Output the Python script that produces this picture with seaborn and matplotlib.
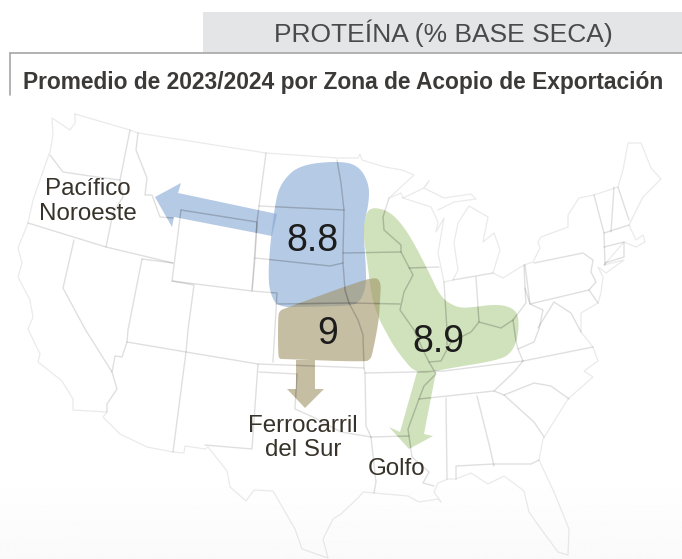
import numpy as np
import matplotlib
matplotlib.use('Agg')
import matplotlib.pyplot as plt
from matplotlib.patches import Polygon
import seaborn as sns

# values per export zone
zone_names = ['Pacífico\nNoroeste', 'Ferrocarril\ndel Sur', 'Golfo']
zone_values = ['8.8', '9', '8.9']
header = 'PROTEÍNA (% BASE SECA)'
subtitle = 'Promedio de 2023/2024 por Zona de Acopio de Exportación'

# map outlines, traced in pixels of the picture
coast = [
    [(75, 114), (75, 123), (70, 130), (52, 118), (53, 135), (50, 152), (48, 157), (33, 200), (28, 223), (18, 248),
     (22, 263), (18, 277), (30, 300), (33, 317), (28, 329), (40, 354), (38, 362), (62, 381), (73, 399), (73, 410),
     (107, 412), (103, 417), (120, 434), (147, 447), (173, 452), (184, 453), (185, 446), (205, 449), (208, 447),
     (227, 471), (230, 487), (246, 501), (254, 490), (273, 491), (295, 529), (302, 549), (328, 558), (323, 539),
     (333, 519), (341, 514), (359, 497), (363, 492), (374, 493), (408, 496), (419, 502), (438, 499), (441, 502),
     (434, 492), (438, 483), (448, 479), (456, 479), (471, 473), (488, 484), (504, 476), (524, 491), (529, 512),
     (541, 529), (558, 552), (568, 555), (569, 529), (554, 492), (539, 460), (543, 439), (568, 399), (593, 377),
     (584, 371), (598, 361), (593, 347), (581, 332), (581, 313), (598, 303), (601, 293), (603, 277), (598, 267),
     (606, 273), (624, 260), (604, 265)],
    [(604, 265), (624, 242), (636, 247), (645, 242), (643, 235), (636, 240), (629, 225), (643, 197), (661, 179),
     (651, 168), (641, 143), (628, 143), (623, 170), (618, 187), (594, 195), (579, 198), (568, 215), (568, 227),
     (541, 237), (538, 242), (540, 248), (533, 262), (524, 265), (503, 278), (493, 273), (500, 250), (494, 233),
     (483, 242), (488, 217), (469, 206), (458, 223), (454, 243), (458, 270), (453, 280), (444, 282), (438, 253),
     (444, 218), (436, 232), (438, 222), (431, 207), (403, 198), (401, 193), (389, 198), (414, 175), (402, 170),
     (385, 167), (362, 160), (360, 154), (358, 158), (338, 158), (266, 153), (138, 133), (130, 130), (75, 114)],
    [(403, 198), (424, 188), (429, 181), (424, 188), (444, 198), (471, 194), (476, 199), (454, 202), (438, 210)],
]
borders = [
    [(50, 155), (63, 172), (97, 177), (120, 180)],
    [(130, 130), (120, 180), (123, 197), (113, 213), (106, 247)],
    [(28, 223), (106, 247), (173, 263)],
    [(138, 133), (136, 150), (147, 178), (145, 195), (152, 195), (160, 217), (173, 218)],
    [(181, 210), (172, 281), (252, 291), (257, 222), (181, 210)],
    [(266, 153), (259, 206), (257, 222), (255, 258), (252, 291), (277, 293), (273, 362)],
    [(259, 206), (344, 210)],
    [(255, 258), (330, 266), (343, 263)],
    [(276, 304), (349, 303), (400, 304)],
    [(74, 240), (63, 288), (85, 329), (112, 372), (117, 389), (107, 404), (107, 412)],
    [(142, 259), (128, 330), (127, 342), (122, 357), (115, 356), (112, 372)],
    [(142, 259), (173, 263)],
    [(172, 281), (194, 285), (188, 330), (186, 352), (173, 452)],
    [(127, 342), (186, 352), (258, 364), (341, 367), (364, 368)],
    [(258, 364), (252, 449), (205, 445)],
    [(259, 372), (297, 374), (295, 409), (313, 417), (341, 432), (371, 437)],
    [(337, 160), (341, 183), (344, 210), (343, 253), (343, 263), (345, 290), (349, 303), (358, 320), (363, 335),
     (364, 368), (365, 373), (366, 426), (371, 437), (376, 482), (374, 493)],
    [(365, 373), (413, 372), (444, 371), (523, 361), (593, 347)],
    [(419, 399), (494, 391), (514, 372), (523, 361)],
    [(494, 391), (504, 395), (534, 383), (551, 386), (569, 399)],
    [(504, 395), (534, 422), (544, 437)],
    [(446, 398), (447, 479)],
    [(477, 396), (489, 444), (494, 466)],
    [(456, 479), (456, 466), (494, 464), (531, 464), (539, 460)],
    [(371, 437), (409, 436), (408, 429), (419, 399), (424, 386), (436, 374), (429, 362), (424, 352), (414, 330),
     (400, 310), (404, 292), (413, 275), (401, 252), (401, 245), (384, 230), (383, 217), (389, 198)],
    [(409, 436), (412, 457), (429, 472), (423, 483), (434, 486)],
    [(343, 253), (401, 252)],
    [(409, 268), (439, 267)],
    [(444, 282), (447, 330), (447, 345)],
    [(453, 280), (493, 273)],
    [(476, 277), (479, 322)],
    [(429, 362), (441, 361), (451, 342), (471, 332), (479, 322), (501, 328), (513, 320), (526, 303), (525, 288),
     (524, 265)],
    [(513, 320), (516, 341), (518, 349), (534, 342), (539, 329), (543, 310), (530, 304), (525, 288)],
    [(518, 349), (523, 361)],
    [(534, 263), (583, 253), (593, 260), (591, 272), (596, 282), (589, 290), (530, 304), (525, 265)],
    [(538, 328), (554, 302), (571, 313), (581, 332)],
    [(589, 290), (598, 303)],
    [(594, 195), (604, 233), (605, 265)],
    [(604, 233), (629, 225)],
    [(604, 247), (624, 242), (624, 257), (605, 263)],
    [(611, 232), (614, 187)],
    [(618, 187), (629, 220)],
]

# shaded zones and their arrows
blue_zone = [(300, 165), (337, 161), (358, 165), (369, 183), (369, 203), (363, 227), (366, 267), (366, 287),
             (360, 302), (350, 306), (297, 307), (283, 307), (273, 302), (267, 277), (275, 200), (283, 180)]
green_zone = [(374, 207), (391, 212), (408, 232), (428, 270), (441, 298), (456, 307), (467, 308), (497, 304),
              (513, 308), (519, 317), (518, 337), (512, 352), (500, 360), (445, 369), (417, 375), (400, 355),
              (390, 340), (373, 307), (367, 260), (363, 233), (366, 212)]
tan_zone = [(280, 311), (283, 309), (363, 280), (375, 278), (378, 279), (381, 284), (380, 300), (379, 320),
            (372, 356), (370, 359), (366, 362), (283, 359), (280, 359), (278, 356), (278, 315)]
blue_arrow = [(155, 197), (181, 183), (178, 193), (277, 214), (272, 236), (174, 217), (172, 227)]
green_arrow = [(417, 372), (436, 372), (424, 434), (433, 436), (409, 449), (389, 427), (400, 432)]
tan_arrow = [(296, 360), (315, 360), (315, 389), (324, 389), (305, 408), (287, 389), (296, 389)]


def smooth(points, rounds):
    # corner cutting, closes the shape
    pts = np.array(points, dtype=float)
    for _ in range(rounds):
        nxt = np.roll(pts, -1, axis=0)
        pts = np.column_stack([0.75 * pts + 0.25 * nxt, 0.25 * pts + 0.75 * nxt]).reshape(-1, 2)
    return pts


sns.set_theme(style='white')
plt.rcParams['font.family'] = ['Liberation Sans', 'DejaVu Sans']

fig, ax = plt.subplots(figsize=(6.82, 5.59), dpi=100)
fig.subplots_adjust(left=0, right=1, top=1, bottom=0)
ax.axis('off')

# faint fade at the bottom of the picture
fade = np.linspace(1, 0.98, 60).reshape(-1, 1)
ax.imshow(fade, extent=(0, 682, 559, 470), cmap='gray', vmin=0, vmax=1, aspect='auto', zorder=0)
ax.set_xlim(0, 682)
ax.set_ylim(559, 0)

blue, green, tan = '#84a7d4', '#b2cf8e', '#a09466'
shapes = [(smooth(blue_zone, 3), blue), (np.array(blue_arrow), blue),
          (smooth(green_zone, 3), green), (np.array(green_arrow), green),
          (smooth(tan_zone, 2), tan), (np.array(tan_arrow), tan)]
for pts, color in shapes:
    ax.fill(pts[:, 0], pts[:, 1], color=color, alpha=0.6, lw=0, zorder=1)

for line in borders:
    pts = np.array(line)
    ax.plot(pts[:, 0], pts[:, 1], color='#444444', alpha=0.17, lw=1.0, zorder=2)
for line in coast:
    pts = np.array(line)
    ax.plot(pts[:, 0], pts[:, 1], color='#444444', alpha=0.11, lw=0.9, zorder=2)

# the lines read darker where they cross a zone
for pts, color in shapes:
    clip = Polygon(pts, transform=ax.transData)
    for line in borders + coast:
        seg = np.array(line)
        drawn, = ax.plot(seg[:, 0], seg[:, 1], color='#444444', alpha=0.13, lw=1.0, zorder=2)
        drawn.set_clip_path(clip)

# header band
ax.fill_between([203, 682], 12, 53, color='#e4e5e7', lw=0, zorder=3)
ax.plot([10, 682], [53, 53], color='#a6a6a6', lw=1.2, zorder=4)
ax.plot([10, 10], [53, 95], color='#a6a6a6', lw=1.2, zorder=4)
ax.text(443, 33, header, fontsize=19, color='#4a4a4a', ha='center', va='center', zorder=5)
ax.text(343, 82, subtitle, fontsize=16.4, fontweight='bold', color='#3b3a38', ha='center', va='center', zorder=5)

# zone names and protein values
for name, x, y in zip(zone_names, [88, 303, 397], [201.5, 438, 469]):
    ax.text(x, y, name, fontsize=17.4, color='#38332a', ha='center', va='center', linespacing=1.15, zorder=5)
for value, x, y in zip(zone_values, [312, 328, 438], [241, 334, 342]):
    ax.text(x, y, value, fontsize=27, color='#1c1c1c', ha='center', va='center', zorder=5)

sns.despine(ax=ax, left=True, bottom=True)
fig.savefig('out.png', dpi=100)
